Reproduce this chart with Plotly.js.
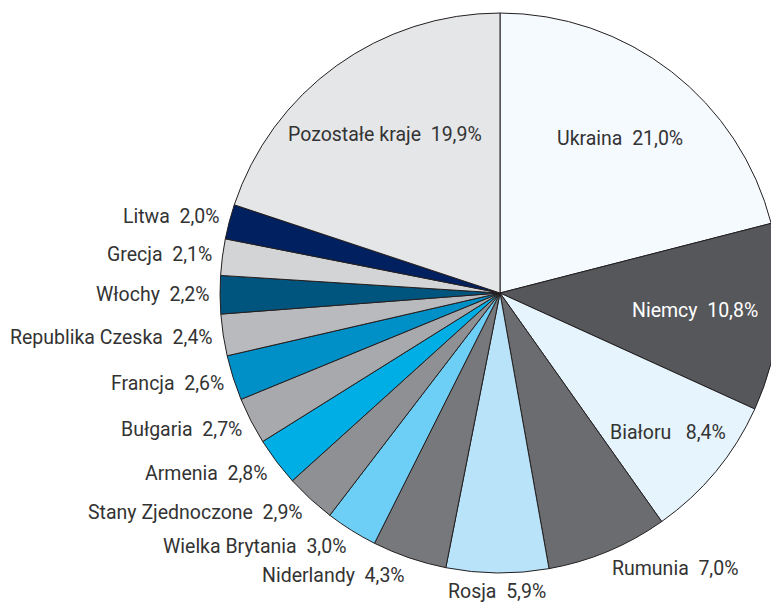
<!DOCTYPE html>
<html>
<head>
<meta charset="utf-8">
<script src="https://cdn.plot.ly/plotly-3.0.1.min.js"></script>
<style>
html,body{margin:0;padding:0;overflow:hidden;background:#fff;}
#chart{width:800px;height:606px;}
</style>
</head>
<body>
<div id="chart"></div>
<script>
const countries = ["Ukraina","Niemcy","Białoru","Rumunia","Rosja","Niderlandy","Wielka Brytania","Stany Zjednoczone","Armenia","Bułgaria","Francja","Republika Czeska","Włochy","Grecja","Litwa","Pozostałe kraje"];
const shares = [21.0,10.8,8.4,7.0,5.9,4.3,3.0,2.9,2.8,2.7,2.6,2.4,2.2,2.1,2.0,19.9];
const sliceColors = ["#f5faff","#56575a","#e6f4fd","#6b6c70","#b9e3f8","#77787c","#6dcff6","#8f9094","#00aee6","#a7a9ac","#0090c8","#b8babd","#00557f","#d3d4d6","#002060","#e5e6e8"];

const W = 800, H = 606;
const domX = [0.275, 0.975], domY = [0.0545, 0.9785];
const FONT = "Roboto, 'Open Sans', sans-serif";
const FS = 19.5;
const TXT = "#333333";

function fmt(v){ return v.toFixed(1).replace('.', ',') + '%'; }

const cx = (domX[0]+domX[1])/2*W;
const cy = (1-(domY[0]+domY[1])/2)*H;
const R = Math.min((domX[1]-domX[0])*W, (domY[1]-domY[0])*H)/2;
const total = shares.reduce((a,b)=>a+b,0);

const annotations = [];
let cum = 0;
shares.forEach((v,i)=>{
  const mid = (cum + v/2)/total*2*Math.PI;
  cum += v;
  const s = Math.sin(mid), c = Math.cos(mid);
  const inside = v >= 8;
  let px, py, xa = 'center';
  let text;
  if (inside) {
    const rr = (v >= 10 ? 0.7 : 0.78)*R;
    px = cx + rr*s; py = cy - rr*c;
    text = countries[i] + '\u00a0\u00a0' + (v < 10 ? '\u00a0' : '') + fmt(v);
  } else {
    const rr = R + 9;
    px = cx + rr*s; py = cy - rr*c;
    py += 10*(-c);
    if (s < -0.2) xa = 'right'; else if (s > 0.2) xa = 'left';
    text = countries[i] + '\u00a0\u00a0' + fmt(v);
  }
  const dark = ["#56575a"].includes(sliceColors[i]);
  annotations.push({
    x: px/W, y: 1 - py/H, xref:'paper', yref:'paper',
    xanchor: xa, yanchor:'middle', showarrow:false, text:text,
    borderpad:0,
    font:{family:FONT, size:FS, color: (inside && dark) ? '#ffffff' : TXT}
  });
});

const trace = {
  type:'pie',
  labels: countries,
  values: shares,
  sort:false,
  direction:'clockwise',
  rotation:0,
  textinfo:'none',
  hoverinfo:'none',
  marker:{colors:sliceColors, line:{color:'#231f20', width:1}},
  domain:{x:domX, y:domY},
  showlegend:false
};

Plotly.newPlot('chart',[trace],{
  width:W, height:H,
  margin:{l:0,r:0,t:0,b:0},
  paper_bgcolor:'#ffffff',
  showlegend:false,
  annotations:annotations
},{staticPlot:true});
</script>
</body>
</html>
